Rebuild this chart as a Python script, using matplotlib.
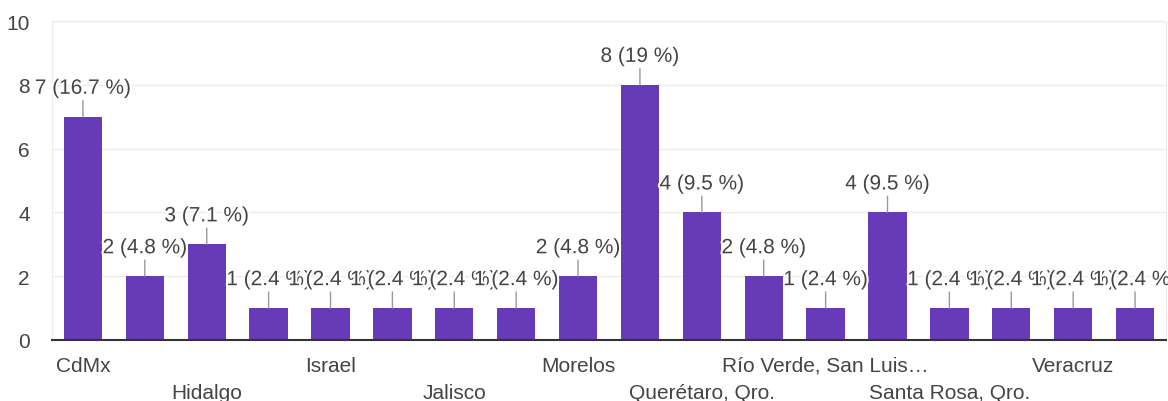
import matplotlib.pyplot as plt
import matplotlib.patheffects as pe
from matplotlib.transforms import ScaledTranslation

plt.rcParams['font.family'] = ['Liberation Sans', 'DejaVu Sans']

# categorias (as que o gráfico não mostra ficam vazias)
categorias = ['CdMx', '', 'Hidalgo', '', 'Israel', '', 'Jalisco', '',
              'Morelos', '', 'Querétaro, Qro.', '', 'Río Verde, San Luis…', '',
              'Santa Rosa, Qro.', '', 'Veracruz', '']
valores = [7, 2, 3, 1, 1, 1, 1, 1, 2, 8, 4, 2, 1, 4, 1, 1, 1, 1]
porcentagens = ['16.7', '4.8', '7.1', '2.4', '2.4', '2.4', '2.4', '2.4', '4.8',
                '19', '9.5', '4.8', '2.4', '9.5', '2.4', '2.4', '2.4', '2.4']
yticks = [0, 2, 4, 6, 8, 10]

roxo = '#673ab7'
cinza_txt = '#444444'

fig = plt.figure(figsize=(11.68, 4.02), dpi=100)
ax = fig.add_axes([52 / 1168, 61 / 402, 1114 / 1168, 319 / 402])

pos = list(range(len(valores)))
ax.bar(pos, valores, width=0.62, color=roxo, zorder=2)

ax.set_xlim(-0.5, len(valores) - 0.5)
ax.set_ylim(0, 10)
ax.set_yticks(yticks)
ax.grid(axis='y', color='#ebebeb', linewidth=1, zorder=0)

for s in ['left', 'right', 'top']:
    ax.spines[s].set_color('#ebebeb')
ax.spines['bottom'].set_color('#333333')
ax.spines['bottom'].set_linewidth(1.5)
ax.spines['bottom'].set_zorder(3)

ax.tick_params(axis='y', length=0, pad=16, labelsize=15, labelcolor=cinza_txt)
ax.tick_params(axis='x', length=0, pad=11.5, labelsize=15, labelcolor=cinza_txt)

# rótulos do eixo x em duas linhas alternadas
idx_rotulos = [i for i, c in enumerate(categorias) if c]
ax.set_xticks(idx_rotulos)
ax.set_xticklabels([categorias[i] for i in idx_rotulos])
for k, lab in enumerate(ax.get_xticklabels()):
    if k % 2 == 1:
        lab.set_transform(lab.get_transform() + ScaledTranslation(0, -27 / 100, fig.dpi_scale_trans))

# rótulos de valor com linha de chamada
for i, (v, p) in enumerate(zip(valores, porcentagens)):
    ax.annotate(f'{v} ({p} %)', xy=(i, v), xytext=(0, 16.5), textcoords='offset points',
                ha='center', va='baseline', fontsize=15, color=cinza_txt, zorder=4 + i,
                path_effects=[pe.withStroke(linewidth=3, foreground='white')],
                arrowprops=dict(arrowstyle='-', color='#999999', lw=1, shrinkA=0, shrinkB=0),
                annotation_clip=False)

fig.savefig('out.png', dpi=100)
